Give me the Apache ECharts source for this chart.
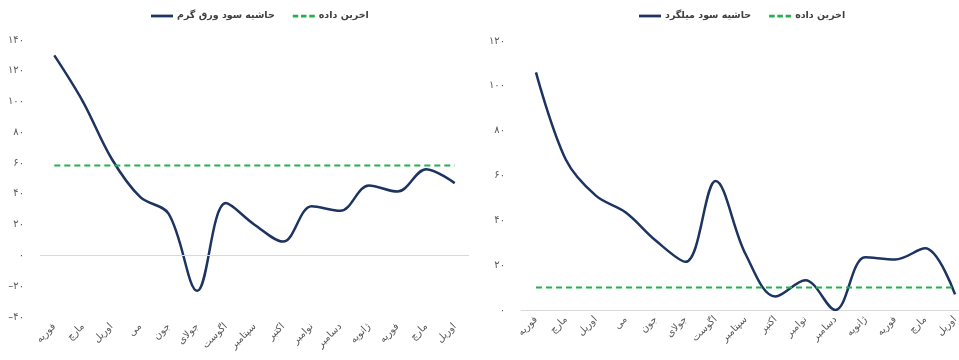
<!DOCTYPE html>
<html><head><meta charset="utf-8">
<script src="https://cdn.jsdelivr.net/npm/echarts@6/dist/echarts.min.js"></script>
<style>html,body{margin:0;padding:0;background:#fff;overflow:hidden}#c{width:970px;height:360px}</style>
</head><body><div id="c"></div>
<script>
const categories = ['فوریه','مارچ','اوریل','می','جون','جولای','اگوست','سپتامبر','اکتبر','نوامبر','دسامبر','ژانویه','فوریه','مارچ','اوریل'];
const hotSheetMargin = [130, 100, 63, 38, 27, -23, 34, 20, 9, 32, 29, 45.5, 41.5, 56, 47];
const hotSheetLast = 58.5;
const rebarMargin = [106, 67, 51, 43.5, 31, 21.5, 57.5, 25, 6, 13.3, 0, 23.5, 22.5, 27.5, 7];
const rebarLast = 10;
const leftTicks = {min: -40, max: 140, interval: 20};
const rightTicks = {min: 0, max: 120, interval: 20};
const names = {hot: 'حاشیه سود ورق گرم', rebar: 'حاشیه سود میلگرد', last: 'اخرین داده'};

const FONT = 'DejaVu Sans';
const fa = v => String(v).replace(/\d/g, d => '۰۱۲۳۴۵۶۷۸۹'[d]).replace('-', '–');
const navy = '#1d3461', green = '#22b14c';
const solidIcon = 'path://M0,0h24v3h-24z';
const dashIcon = 'path://M0,0h6v3h-6z M9,0h6v3h-6z M18,0h6v3h-6z';
const xAxisBase = {
  type: 'category', data: categories, boundaryGap: true,
  axisTick: {show: false},
  axisLabel: {rotate: 45, fontFamily: FONT, fontSize: 10, color: '#595959', margin: 8, interval: 0}
};
const yAxisBase = {
  type: 'value', splitLine: {show: false}, axisLine: {show: false}, axisTick: {show: false},
  axisLabel: {formatter: fa, fontFamily: FONT, fontSize: 10, color: '#595959', margin: 16}
};
const legendBase = {top: 6, itemWidth: 22, itemHeight: 3, itemGap: 18,
  textStyle: {fontFamily: FONT, fontSize: 9.5, fontWeight: 'bold', color: '#404040', padding: [0, 0, 0, -1]}};
const option = {
  animation: false,
  legend: [
    Object.assign({}, legendBase, {left: 146, data: [{name: names.hot, icon: solidIcon}, {name: names.last, icon: dashIcon}]}),
    Object.assign({}, legendBase, {left: 634, data: [{name: names.rebar, icon: solidIcon}, {name: names.last + ' ', icon: dashIcon}]})
  ],
  grid: [
    {left: 40, width: 429, top: 40, bottom: 43},
    {left: 521, width: 449, top: 41, bottom: 50}
  ],
  xAxis: [
    Object.assign({}, xAxisBase, {gridIndex: 0, axisLine: {show: false, onZero: false}}),
    Object.assign({}, xAxisBase, {gridIndex: 1, axisLine: {show: true, lineStyle: {color: '#d9d9d9'}}})
  ],
  yAxis: [
    Object.assign({}, yAxisBase, {gridIndex: 0}, leftTicks),
    Object.assign({}, yAxisBase, {gridIndex: 1}, rightTicks)
  ],
  series: [
    {name: names.hot, type: 'line', xAxisIndex: 0, yAxisIndex: 0, data: hotSheetMargin, smooth: 0.35,
     symbol: 'none', lineStyle: {color: navy, width: 2.5}, itemStyle: {color: navy},
     markLine: {silent: true, symbol: 'none', label: {show: false}, lineStyle: {color: '#d9d9d9', type: 'solid', width: 1}, data: [{yAxis: 0}]}},
    {name: names.last, type: 'line', xAxisIndex: 0, yAxisIndex: 0, data: categories.map(() => hotSheetLast),
     symbol: 'none', lineStyle: {color: green, width: 2, type: [6, 4]}, itemStyle: {color: green}},
    {name: names.rebar, type: 'line', xAxisIndex: 1, yAxisIndex: 1, data: rebarMargin, smooth: 0.35,
     symbol: 'none', lineStyle: {color: navy, width: 2.5}, itemStyle: {color: navy}},
    {name: names.last + ' ', type: 'line', xAxisIndex: 1, yAxisIndex: 1, data: categories.map(() => rebarLast),
     symbol: 'none', lineStyle: {color: green, width: 2, type: [6, 4]}, itemStyle: {color: green}}
  ]
};
echarts.init(document.getElementById('c')).setOption(option);
</script></body></html>
